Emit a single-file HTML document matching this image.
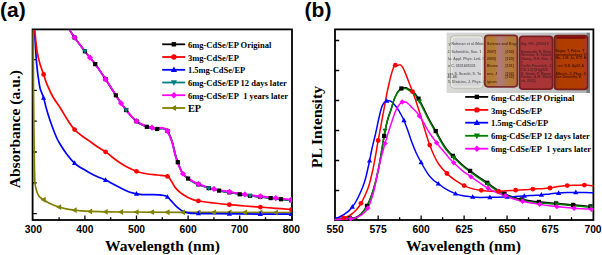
<!DOCTYPE html>
<html><head><meta charset="utf-8"><title>Absorbance and PL spectra</title>
<style>html,body{margin:0;padding:0;background:#fff;width:602px;height:255px;overflow:hidden}
svg{display:block}</style></head>
<body>
<svg width="602" height="255" viewBox="0 0 602 255"><rect width="602" height="255" fill="#fff"/><defs><filter id="bl" x="-5%" y="-5%" width="110%" height="110%"><feGaussianBlur stdDeviation="0.4"/></filter><linearGradient id="pg" x1="0" y1="0" x2="1" y2="0"><stop offset="0" stop-color="#d8d8d8"/><stop offset="0.45" stop-color="#cdcdcf"/><stop offset="0.97" stop-color="#b0b3b6"/><stop offset="0.985" stop-color="#6c7074"/><stop offset="1" stop-color="#8a8e92"/></linearGradient><linearGradient id="f2" x1="0" y1="0" x2="1" y2="0"><stop offset="0" stop-color="#b07830"/><stop offset="0.3" stop-color="#b47c32"/><stop offset="0.45" stop-color="#b07a80"/><stop offset="0.6" stop-color="#b07a5c"/><stop offset="0.8" stop-color="#b47a34"/><stop offset="1" stop-color="#b07444"/></linearGradient><linearGradient id="f3" x1="0" y1="0" x2="1" y2="1"><stop offset="0" stop-color="#ae383a"/><stop offset="1" stop-color="#a83436"/></linearGradient><linearGradient id="f4" x1="0" y1="0" x2="1" y2="0"><stop offset="0" stop-color="#8a3a12"/><stop offset="0.15" stop-color="#b03c04"/><stop offset="0.85" stop-color="#b43c04"/><stop offset="0.94" stop-color="#a83a20"/><stop offset="1" stop-color="#c07080"/></linearGradient><clipPath id="k1"><rect x="447" y="33" width="36.5" height="60"/></clipPath><clipPath id="k2"><rect x="485.5" y="35" width="31.5" height="51"/></clipPath><clipPath id="k3"><rect x="520.3" y="37" width="31.5" height="51"/></clipPath><clipPath id="k4"><rect x="555.2" y="37" width="31.5" height="51"/></clipPath></defs><g filter="url(#bl)"><rect x="446.6" y="32.6" width="143.4" height="60.4" fill="url(#pg)"/><rect x="450.6" y="35.9" width="32.4" height="52.2" rx="3.2" fill="#d6d6d8" stroke="#b8b8a0" stroke-width="1.0"/><rect x="451.8" y="37.0" width="30.0" height="50.0" rx="2.6" fill="none" stroke="#eeeeea" stroke-width="1.2"/><g clip-path="url(#k1)"><text x="448.50" y="45.00" font-family="Liberation Sans, sans-serif" font-size="3.50" font-weight="bold" letter-spacing="0.05" fill="#5a5a5a" opacity="0.90">y Rahman et al./Mater</text><text x="447.50" y="52.80" font-family="Liberation Sans, sans-serif" font-size="3.50" font-weight="bold" letter-spacing="0.05" fill="#5a5a5a" opacity="0.90">J. Schmidtic, Soc. 1</text><text x="448.00" y="59.70" font-family="Liberation Sans, sans-serif" font-size="3.50" font-weight="bold" letter-spacing="0.05" fill="#5a5a5a" opacity="0.90">lo.  Appl. Phys. Lett. 9</text><text x="448.00" y="66.90" font-family="Liberation Sans, sans-serif" font-size="3.50" font-weight="bold" letter-spacing="0.05" fill="#5a5a5a" opacity="0.90">n C.  0531405331</text><text x="447.50" y="74.60" font-family="Liberation Sans, sans-serif" font-size="3.50" font-weight="bold" letter-spacing="0.05" fill="#5a5a5a" opacity="0.90">vas S. Suzuki, S. Yo</text><text x="447.50" y="77.80" font-family="Liberation Sans, sans-serif" font-size="3.50" font-weight="bold" letter-spacing="0.05" fill="#5a5a5a" opacity="0.90">45-48.</text><text x="448.00" y="82.60" font-family="Liberation Sans, sans-serif" font-size="3.50" font-weight="bold" letter-spacing="0.05" fill="#5a5a5a" opacity="0.90">5.  Dlatsins, J. Phys. C</text></g><rect x="484.8" y="35.4" width="32.6" height="51.4" rx="3.2" fill="url(#f2)" stroke="#7c2a2c" stroke-width="1.8"/><g clip-path="url(#k2)"><text x="487.00" y="45.00" font-family="Liberation Sans, sans-serif" font-size="3.50" font-weight="bold" letter-spacing="0.05" fill="#50200e" opacity="0.90">Science and Engin</text><text x="487.00" y="52.80" font-family="Liberation Sans, sans-serif" font-size="3.50" font-weight="bold" letter-spacing="0.05" fill="#50200e" opacity="0.90">2007)</text><text x="505.50" y="52.80" font-family="Liberation Sans, sans-serif" font-size="3.50" font-weight="bold" letter-spacing="0.05" fill="#50200e" opacity="0.90">[100]</text><text x="487.00" y="59.70" font-family="Liberation Sans, sans-serif" font-size="3.50" font-weight="bold" letter-spacing="0.05" fill="#50200e" opacity="0.90">2005)</text><text x="505.50" y="59.70" font-family="Liberation Sans, sans-serif" font-size="3.50" font-weight="bold" letter-spacing="0.05" fill="#50200e" opacity="0.90">[120]</text><text x="487.00" y="66.90" font-family="Liberation Sans, sans-serif" font-size="3.50" font-weight="bold" letter-spacing="0.05" fill="#50200e" opacity="0.90">Biome</text><text x="505.50" y="66.90" font-family="Liberation Sans, sans-serif" font-size="3.50" font-weight="bold" letter-spacing="0.05" fill="#50200e" opacity="0.90">[101]</text><text x="487.00" y="74.60" font-family="Liberation Sans, sans-serif" font-size="3.50" font-weight="bold" letter-spacing="0.05" fill="#50200e" opacity="0.90">oes, J</text><text x="505.50" y="74.60" font-family="Liberation Sans, sans-serif" font-size="3.50" font-weight="bold" letter-spacing="0.05" fill="#50200e" opacity="0.90">[102]</text><text x="505.50" y="77.80" font-family="Liberation Sans, sans-serif" font-size="3.50" font-weight="bold" letter-spacing="0.05" fill="#50200e" opacity="0.90">[102]</text><text x="487.00" y="83.00" font-family="Liberation Sans, sans-serif" font-size="3.50" font-weight="bold" letter-spacing="0.05" fill="#50200e" opacity="0.90">ignon</text></g><rect x="519.6" y="36.4" width="33" height="52.8" rx="3.2" fill="url(#f3)" stroke="#7a1e22" stroke-width="1.8"/><g clip-path="url(#k3)"><text x="521.00" y="45.00" font-family="Liberation Sans, sans-serif" font-size="3.40" font-weight="bold" letter-spacing="0.05" fill="#4a2026" opacity="0.90">Sig. P.K. (2000) 5</text><text x="521.00" y="52.60" font-family="Liberation Sans, sans-serif" font-size="3.40" font-weight="bold" letter-spacing="0.05" fill="#4a2026" opacity="0.90">Kawasaki, R. Bing</text><text x="521.00" y="56.00" font-family="Liberation Sans, sans-serif" font-size="3.40" font-weight="bold" letter-spacing="0.05" fill="#4a2026" opacity="0.90">Shimizu, S. Takase</text><text x="521.00" y="60.10" font-family="Liberation Sans, sans-serif" font-size="3.40" font-weight="bold" letter-spacing="0.05" fill="#4a2026" opacity="0.90">Zhang, D.H. Kim, J.</text><text x="521.00" y="63.50" font-family="Liberation Sans, sans-serif" font-size="3.40" font-weight="bold" letter-spacing="0.05" fill="#4a2026" opacity="0.90">7</text><text x="521.00" y="67.40" font-family="Liberation Sans, sans-serif" font-size="3.40" font-weight="bold" letter-spacing="0.05" fill="#4a2026" opacity="0.90">Carlin Panavich, J.</text><text x="521.00" y="70.60" font-family="Liberation Sans, sans-serif" font-size="3.40" font-weight="bold" letter-spacing="0.05" fill="#4a2026" opacity="0.90">CD-1.2(1)Hg(520</text><text x="521.00" y="75.30" font-family="Liberation Sans, sans-serif" font-size="3.40" font-weight="bold" letter-spacing="0.05" fill="#4a2026" opacity="0.90">D. Santa, P. Moore</text><text x="521.00" y="78.40" font-family="Liberation Sans, sans-serif" font-size="3.40" font-weight="bold" letter-spacing="0.05" fill="#4a2026" opacity="0.90">Farkas, A.M. Walde</text><text x="521.00" y="82.30" font-family="Liberation Sans, sans-serif" font-size="3.40" font-weight="bold" letter-spacing="0.05" fill="#4a2026" opacity="0.90">sh, 2011)</text></g><rect x="554.4" y="35.6" width="33" height="53.8" rx="3.2" fill="url(#f4)" stroke="#781a14" stroke-width="1.8"/><path d="M556.5,37.6 H585.5" stroke="#801010" stroke-width="2.6"/><g clip-path="url(#k4)"><text x="555.50" y="52.40" font-family="Liberation Sans, sans-serif" font-size="3.40" font-weight="bold" letter-spacing="0.05" fill="#3a1004" opacity="0.90">Sugar, T. Pulse. T</text><text x="555.50" y="55.80" font-family="Liberation Sans, sans-serif" font-size="3.40" font-weight="bold" letter-spacing="0.05" fill="#3a1004" opacity="0.90">nanotechnology 17</text><text x="555.50" y="59.30" font-family="Liberation Sans, sans-serif" font-size="3.40" font-weight="bold" letter-spacing="0.05" fill="#3a1004" opacity="0.90">Mo, J.M. Jo, K.Y. Kim</text><text x="555.50" y="67.40" font-family="Liberation Sans, sans-serif" font-size="3.40" font-weight="bold" letter-spacing="0.05" fill="#3a1004" opacity="0.90">...en. S.S. Ap01.A</text><text x="555.50" y="74.90" font-family="Liberation Sans, sans-serif" font-size="3.40" font-weight="bold" letter-spacing="0.05" fill="#3a1004" opacity="0.90">Alberts, J. Phys. C</text><text x="555.50" y="78.30" font-family="Liberation Sans, sans-serif" font-size="3.40" font-weight="bold" letter-spacing="0.05" fill="#3a1004" opacity="0.90">Lee Donnelly, E</text></g></g><rect x="32.60" y="29.40" width="259.40" height="190.60" fill="none" stroke="#000" stroke-width="1.8"/><rect x="335.00" y="29.40" width="258.40" height="190.60" fill="none" stroke="#000" stroke-width="1.8"/><path d="M59.10,220.00V217.20 M84.90,220.00V215.50 M110.70,220.00V217.20 M136.50,220.00V215.50 M162.30,220.00V217.20 M188.10,220.00V215.50 M213.90,220.00V217.20 M239.70,220.00V215.50 M265.50,220.00V217.20 M32.60,59.60H36.80 M32.60,90.40H36.80 M32.60,121.20H36.80 M32.60,152.00H36.80 M32.60,182.80H36.80 M32.60,213.60H36.80 M356.68,220.00V217.20 M378.17,220.00V215.50 M399.65,220.00V217.20 M421.13,220.00V215.50 M442.62,220.00V217.20 M464.10,220.00V215.50 M485.59,220.00V217.20 M507.07,220.00V215.50 M528.55,220.00V217.20 M550.04,220.00V215.50 M571.52,220.00V217.20 M335.00,40.50H339.20 M335.00,70.50H339.20 M335.00,100.50H339.20 M335.00,130.50H339.20 M335.00,160.50H339.20 M335.00,190.50H339.20" stroke="#000" stroke-width="1.3" fill="none"/><clipPath id="ca"><rect x="31.70" y="30.30" width="260.30" height="190.60"/></clipPath><g clip-path="url(#ca)"><path d="M33.30,27.00 C33.31,33.33 33.29,52.00 33.35,65.00 C33.41,78.00 33.54,93.33 33.65,105.00 C33.76,116.67 33.88,125.00 34.00,135.00 C34.12,145.00 34.28,158.17 34.40,165.00 C34.52,171.83 34.60,172.92 34.70,176.00 C34.80,179.08 34.68,181.00 35.00,183.50 C35.32,186.00 35.93,188.88 36.60,191.00 C37.27,193.12 37.97,194.83 39.00,196.20 C40.03,197.57 40.97,197.98 42.80,199.20 C44.63,200.42 47.43,202.23 50.00,203.50 C52.57,204.77 55.53,205.92 58.20,206.80 C60.87,207.68 63.45,208.27 66.00,208.80 C68.55,209.33 71.00,209.65 73.50,210.00 C76.00,210.35 78.45,210.67 81.00,210.90 C83.55,211.13 84.80,211.25 88.80,211.40 C92.80,211.55 99.63,211.70 105.00,211.80 C110.37,211.90 108.50,211.92 121.00,212.00 C133.50,212.08 151.67,212.20 180.00,212.30 C208.33,212.40 272.08,212.55 291.00,212.60 C309.92,212.65 293.08,212.60 293.50,212.60" fill="none" stroke="#808000" stroke-width="1.70" stroke-linejoin="round" stroke-linecap="round" /><path d="M33.80,27.00 C33.90,27.42 33.93,23.45 34.40,29.50 C34.87,35.55 35.77,54.05 36.60,63.30 C37.43,72.55 38.63,80.30 39.40,85.00 C40.17,89.70 40.53,89.47 41.20,91.50 C41.87,93.53 42.52,94.28 43.40,97.20 C44.28,100.12 45.40,105.15 46.50,109.00 C47.60,112.85 48.83,116.80 50.00,120.30 C51.17,123.80 52.33,126.97 53.50,130.00 C54.67,133.03 55.82,136.00 57.00,138.50 C58.18,141.00 58.93,142.33 60.60,145.00 C62.27,147.67 64.73,151.53 67.00,154.50 C69.27,157.47 72.03,160.68 74.20,162.80 C76.37,164.92 78.20,166.00 80.00,167.20 C81.80,168.40 83.33,169.03 85.00,170.00 C86.67,170.97 88.00,171.92 90.00,173.00 C92.00,174.08 94.38,175.32 97.00,176.50 C99.62,177.68 102.87,178.75 105.70,180.10 C108.53,181.45 111.18,183.12 114.00,184.60 C116.82,186.08 119.93,187.73 122.60,189.00 C125.27,190.27 127.10,191.30 130.00,192.20 C132.90,193.10 136.67,194.00 140.00,194.40 C143.33,194.80 146.87,194.53 150.00,194.60 C153.13,194.67 156.47,194.65 158.80,194.80 C161.13,194.95 162.63,195.20 164.00,195.50 C165.37,195.80 165.83,195.75 167.00,196.60 C168.17,197.45 169.62,199.15 171.00,200.60 C172.38,202.05 173.97,203.97 175.30,205.30 C176.63,206.63 177.72,207.60 179.00,208.60 C180.28,209.60 181.50,210.60 183.00,211.30 C184.50,212.00 186.00,212.45 188.00,212.80 C190.00,213.15 191.33,213.27 195.00,213.40 C198.67,213.53 202.50,213.52 210.00,213.60 C217.50,213.68 226.50,213.80 240.00,213.90 C253.50,214.00 282.08,214.13 291.00,214.20 C299.92,214.27 293.08,214.28 293.50,214.30" fill="none" stroke="#0000ff" stroke-width="1.70" stroke-linejoin="round" stroke-linecap="round" /><path d="M34.00,27.00 C34.10,27.42 34.08,25.42 34.60,29.50 C35.12,33.58 36.20,45.75 37.10,51.50 C38.00,57.25 38.92,60.18 40.00,64.00 C41.08,67.82 42.45,71.03 43.60,74.40 C44.75,77.77 45.33,80.43 46.90,84.20 C48.47,87.97 50.72,92.95 53.00,97.00 C55.28,101.05 58.27,104.83 60.60,108.50 C62.93,112.17 64.73,115.55 67.00,119.00 C69.27,122.45 71.70,126.37 74.20,129.20 C76.70,132.03 79.37,133.95 82.00,136.00 C84.63,138.05 87.50,139.75 90.00,141.50 C92.50,143.25 94.38,144.77 97.00,146.50 C99.62,148.23 103.20,150.15 105.70,151.90 C108.20,153.65 109.57,155.15 112.00,157.00 C114.43,158.85 117.63,161.23 120.30,163.00 C122.97,164.77 125.33,166.22 128.00,167.60 C130.67,168.98 133.47,170.32 136.30,171.30 C139.13,172.28 142.03,172.93 145.00,173.50 C147.97,174.07 151.43,174.38 154.10,174.70 C156.77,175.02 158.72,175.08 161.00,175.40 C163.28,175.72 166.05,175.62 167.80,176.60 C169.55,177.58 170.25,179.47 171.50,181.30 C172.75,183.13 173.72,185.62 175.30,187.60 C176.88,189.58 179.05,191.63 181.00,193.20 C182.95,194.77 185.17,195.98 187.00,197.00 C188.83,198.02 190.05,198.63 192.00,199.30 C193.95,199.97 195.03,200.38 198.70,201.00 C202.37,201.62 208.87,202.38 214.00,203.00 C219.13,203.62 224.33,204.20 229.50,204.70 C234.67,205.20 239.83,205.60 245.00,206.00 C250.17,206.40 255.33,206.72 260.50,207.10 C265.67,207.48 270.97,207.90 276.00,208.30 C281.03,208.70 287.78,209.27 290.70,209.50 C293.62,209.73 293.03,209.67 293.50,209.70" fill="none" stroke="#ff0000" stroke-width="1.70" stroke-linejoin="round" stroke-linecap="round" /><path d="M69.10,28.20 C69.23,28.55 68.97,28.72 69.90,30.30 C70.83,31.88 72.17,34.17 74.70,37.70 C77.23,41.23 82.47,48.07 85.10,51.50 C87.73,54.93 88.62,55.93 90.50,58.30 C92.38,60.67 93.85,62.17 96.40,65.70 C98.95,69.23 102.60,74.63 105.80,79.50 C109.00,84.37 113.02,90.88 115.60,94.90 C118.18,98.92 119.45,100.97 121.30,103.60 C123.15,106.23 125.00,108.55 126.70,110.70 C128.40,112.85 129.80,114.68 131.50,116.50 C133.20,118.32 135.40,120.33 136.90,121.60 C138.40,122.87 138.80,123.22 140.50,124.10 C142.20,124.98 145.07,126.20 147.10,126.90 C149.13,127.60 150.97,127.95 152.70,128.30 C154.43,128.65 155.87,128.98 157.50,129.00 C159.13,129.02 161.12,128.30 162.50,128.40 C163.88,128.50 164.88,129.05 165.80,129.60 C166.72,130.15 167.30,130.60 168.00,131.70 C168.70,132.80 169.28,134.45 170.00,136.20 C170.72,137.95 171.62,140.03 172.30,142.20 C172.98,144.37 173.52,146.85 174.10,149.20 C174.68,151.55 175.17,154.08 175.80,156.30 C176.43,158.52 177.12,160.38 177.90,162.50 C178.68,164.62 179.60,167.03 180.50,169.00 C181.40,170.97 181.93,172.63 183.30,174.30 C184.67,175.97 187.08,177.73 188.70,179.00 C190.32,180.27 191.43,181.02 193.00,181.90 C194.57,182.78 195.38,183.23 198.10,184.30 C200.82,185.37 205.67,187.22 209.30,188.30 C212.93,189.38 216.45,190.10 219.90,190.80 C223.35,191.50 226.67,191.92 230.00,192.50 C233.33,193.08 236.42,193.73 239.90,194.30 C243.38,194.87 247.38,195.45 250.90,195.90 C254.42,196.35 257.70,196.63 261.00,197.00 C264.30,197.37 267.28,197.72 270.70,198.10 C274.12,198.48 278.08,198.93 281.50,199.30 C284.92,199.67 289.20,200.10 291.20,200.30 C293.20,200.50 293.12,200.47 293.50,200.50" fill="none" stroke="#000000" stroke-width="1.70" stroke-linejoin="round" stroke-linecap="round" /><path d="M69.10,28.20 C69.23,28.55 68.97,28.72 69.90,30.30 C70.83,31.88 72.17,34.17 74.70,37.70 C77.23,41.23 82.47,48.07 85.10,51.50 C87.73,54.93 88.62,55.93 90.50,58.30 C92.38,60.67 93.85,62.17 96.40,65.70 C98.95,69.23 102.60,74.63 105.80,79.50 C109.00,84.37 113.02,90.88 115.60,94.90 C118.18,98.92 119.45,100.97 121.30,103.60 C123.15,106.23 125.00,108.55 126.70,110.70 C128.40,112.85 129.80,114.68 131.50,116.50 C133.20,118.32 135.40,120.33 136.90,121.60 C138.40,122.87 138.80,123.22 140.50,124.10 C142.20,124.98 145.07,126.20 147.10,126.90 C149.13,127.60 150.97,127.95 152.70,128.30 C154.43,128.65 155.87,128.98 157.50,129.00 C159.13,129.02 161.12,128.30 162.50,128.40 C163.88,128.50 164.88,129.05 165.80,129.60 C166.72,130.15 167.30,130.60 168.00,131.70 C168.70,132.80 169.28,134.45 170.00,136.20 C170.72,137.95 171.62,140.03 172.30,142.20 C172.98,144.37 173.52,146.85 174.10,149.20 C174.68,151.55 175.17,154.08 175.80,156.30 C176.43,158.52 177.12,160.38 177.90,162.50 C178.68,164.62 179.60,167.03 180.50,169.00 C181.40,170.97 181.93,172.63 183.30,174.30 C184.67,175.97 187.08,177.73 188.70,179.00 C190.32,180.27 191.43,181.02 193.00,181.90 C194.57,182.78 195.38,183.23 198.10,184.30 C200.82,185.37 205.67,187.22 209.30,188.30 C212.93,189.38 216.45,190.10 219.90,190.80 C223.35,191.50 226.67,191.92 230.00,192.50 C233.33,193.08 236.42,193.73 239.90,194.30 C243.38,194.87 247.38,195.45 250.90,195.90 C254.42,196.35 257.70,196.63 261.00,197.00 C264.30,197.37 267.28,197.72 270.70,198.10 C274.12,198.48 278.08,198.93 281.50,199.30 C284.92,199.67 289.20,200.10 291.20,200.30 C293.20,200.50 293.12,200.47 293.50,200.50" fill="none" stroke="#008080" stroke-width="1.70" stroke-linejoin="round" stroke-linecap="round" /><path d="M68.60,27.50 C68.73,27.85 68.47,28.02 69.40,29.60 C70.33,31.18 71.67,33.47 74.20,37.00 C76.73,40.53 81.97,47.37 84.60,50.80 C87.23,54.23 88.12,55.23 90.00,57.60 C91.88,59.97 93.35,61.47 95.90,65.00 C98.45,68.53 102.10,73.93 105.30,78.80 C108.50,83.67 112.52,90.18 115.10,94.20 C117.68,98.22 118.95,100.27 120.80,102.90 C122.65,105.53 124.50,107.85 126.20,110.00 C127.90,112.15 129.30,113.98 131.00,115.80 C132.70,117.62 134.90,119.63 136.40,120.90 C137.90,122.17 138.30,122.52 140.00,123.40 C141.70,124.28 144.57,125.50 146.60,126.20 C148.63,126.90 150.47,127.25 152.20,127.60 C153.93,127.95 155.37,128.28 157.00,128.30 C158.63,128.32 160.62,127.60 162.00,127.70 C163.38,127.80 164.38,128.35 165.30,128.90 C166.22,129.45 166.80,129.90 167.50,131.00 C168.20,132.10 168.78,133.75 169.50,135.50 C170.22,137.25 171.12,139.33 171.80,141.50 C172.48,143.67 173.02,146.15 173.60,148.50 C174.18,150.85 174.67,153.38 175.30,155.60 C175.93,157.82 176.62,159.68 177.40,161.80 C178.18,163.92 179.10,166.33 180.00,168.30 C180.90,170.27 181.43,171.93 182.80,173.60 C184.17,175.27 186.58,177.03 188.20,178.30 C189.82,179.57 190.93,180.32 192.50,181.20 C194.07,182.08 194.88,182.53 197.60,183.60 C200.32,184.67 205.17,186.52 208.80,187.60 C212.43,188.68 215.95,189.40 219.40,190.10 C222.85,190.80 226.17,191.22 229.50,191.80 C232.83,192.38 235.92,193.03 239.40,193.60 C242.88,194.17 246.88,194.75 250.40,195.20 C253.92,195.65 257.20,195.93 260.50,196.30 C263.80,196.67 266.78,197.02 270.20,197.40 C273.62,197.78 277.58,198.23 281.00,198.60 C284.42,198.97 288.70,199.40 290.70,199.60 C292.70,199.80 292.62,199.77 293.00,199.80" fill="none" stroke="#ff00ff" stroke-width="1.90" stroke-linejoin="round" stroke-linecap="round" /><path d="M40.49,199.74L45.71,196.84L45.71,202.64Z" fill="#808000"/><path d="M55.97,207.09L61.19,204.19L61.19,209.99Z" fill="#808000"/><path d="M71.45,210.15L76.67,207.25L76.67,213.05Z" fill="#808000"/><path d="M86.93,211.44L92.15,208.54L92.15,214.34Z" fill="#808000"/><path d="M102.41,211.81L107.63,208.91L107.63,214.71Z" fill="#808000"/><path d="M117.89,212.00L123.11,209.10L123.11,214.90Z" fill="#808000"/><path d="M133.37,212.10L138.59,209.20L138.59,215.00Z" fill="#808000"/><path d="M148.85,212.18L154.07,209.28L154.07,215.08Z" fill="#808000"/><path d="M164.33,212.25L169.55,209.35L169.55,215.15Z" fill="#808000"/><path d="M179.81,212.31L185.03,209.41L185.03,215.21Z" fill="#808000"/><path d="M195.29,212.36L200.51,209.46L200.51,215.26Z" fill="#808000"/><path d="M210.77,212.40L215.99,209.50L215.99,215.30Z" fill="#808000"/><path d="M226.25,212.44L231.47,209.54L231.47,215.34Z" fill="#808000"/><path d="M241.73,212.48L246.95,209.58L246.95,215.38Z" fill="#808000"/><path d="M257.21,212.52L262.43,209.62L262.43,215.42Z" fill="#808000"/><path d="M272.69,212.56L277.91,209.66L277.91,215.46Z" fill="#808000"/><path d="M288.17,212.60L293.39,209.70L293.39,215.50Z" fill="#808000"/><path d="M43.62,95.14L46.22,99.82L41.02,99.82Z" fill="#0000ff"/><path d="M74.58,160.35L77.18,165.03L71.98,165.03Z" fill="#0000ff"/><path d="M105.54,177.22L108.14,181.90L102.94,181.90Z" fill="#0000ff"/><path d="M136.50,191.03L139.10,195.71L133.90,195.71Z" fill="#0000ff"/><path d="M167.46,194.16L170.06,198.84L164.86,198.84Z" fill="#0000ff"/><path d="M198.42,210.68L201.02,215.36L195.82,215.36Z" fill="#0000ff"/><path d="M229.38,211.00L231.98,215.68L226.78,215.68Z" fill="#0000ff"/><path d="M260.34,211.22L262.94,215.90L257.74,215.90Z" fill="#0000ff"/><path d="M291.30,211.39L293.90,216.07L288.70,216.07Z" fill="#0000ff"/><circle cx="43.62" cy="74.46" r="2.40" fill="#ff0000"/><circle cx="74.58" cy="129.62" r="2.40" fill="#ff0000"/><circle cx="105.54" cy="151.79" r="2.40" fill="#ff0000"/><circle cx="136.50" cy="171.37" r="2.40" fill="#ff0000"/><circle cx="167.46" cy="176.43" r="2.40" fill="#ff0000"/><circle cx="198.42" cy="200.95" r="2.40" fill="#ff0000"/><circle cx="229.38" cy="204.69" r="2.40" fill="#ff0000"/><circle cx="260.34" cy="207.09" r="2.40" fill="#ff0000"/><circle cx="291.30" cy="209.55" r="2.40" fill="#ff0000"/><rect x="72.48" y="35.43" width="4.20" height="4.20" fill="#000000"/><rect x="82.80" y="49.14" width="4.20" height="4.20" fill="#000000"/><rect x="93.12" y="62.00" width="4.20" height="4.20" fill="#000000"/><rect x="103.44" y="77.01" width="4.20" height="4.20" fill="#000000"/><rect x="113.76" y="93.20" width="4.20" height="4.20" fill="#000000"/><rect x="124.08" y="107.94" width="4.20" height="4.20" fill="#000000"/><rect x="134.40" y="119.16" width="4.20" height="4.20" fill="#000000"/><rect x="144.72" y="124.70" width="4.20" height="4.20" fill="#000000"/><rect x="155.04" y="126.89" width="4.20" height="4.20" fill="#000000"/><rect x="165.36" y="128.85" width="4.20" height="4.20" fill="#000000"/><rect x="175.68" y="160.08" width="4.20" height="4.20" fill="#000000"/><rect x="186.00" y="176.43" width="4.20" height="4.20" fill="#000000"/><rect x="196.32" y="182.33" width="4.20" height="4.20" fill="#000000"/><rect x="206.64" y="186.03" width="4.20" height="4.20" fill="#000000"/><rect x="216.96" y="188.53" width="4.20" height="4.20" fill="#000000"/><rect x="227.28" y="190.29" width="4.20" height="4.20" fill="#000000"/><rect x="237.60" y="192.17" width="4.20" height="4.20" fill="#000000"/><rect x="247.92" y="193.69" width="4.20" height="4.20" fill="#000000"/><rect x="258.24" y="194.83" width="4.20" height="4.20" fill="#000000"/><rect x="268.56" y="196.00" width="4.20" height="4.20" fill="#000000"/><rect x="278.88" y="197.14" width="4.20" height="4.20" fill="#000000"/><rect x="289.20" y="198.21" width="4.20" height="4.20" fill="#000000"/><path d="M84.90,54.05L87.50,49.37L82.30,49.37Z" fill="#008080"/><path d="M126.18,112.85L128.78,108.17L123.58,108.17Z" fill="#008080"/><path d="M167.46,133.76L170.06,129.08L164.86,129.08Z" fill="#008080"/><path d="M208.74,190.94L211.34,186.26L206.14,186.26Z" fill="#008080"/><path d="M250.02,198.59L252.62,193.91L247.42,193.91Z" fill="#008080"/><path d="M291.30,203.12L293.90,198.44L288.70,198.44Z" fill="#008080"/><path d="M74.58,34.42L77.68,37.52L74.58,40.62L71.48,37.52Z" fill="#ff00ff"/><path d="M90.06,54.57L93.16,57.67L90.06,60.77L86.96,57.67Z" fill="#ff00ff"/><path d="M105.54,76.07L108.64,79.17L105.54,82.27L102.44,79.17Z" fill="#ff00ff"/><path d="M121.02,100.11L124.12,103.21L121.02,106.31L117.92,103.21Z" fill="#ff00ff"/><path d="M136.50,117.88L139.60,120.98L136.50,124.08L133.40,120.98Z" fill="#ff00ff"/><path d="M151.98,124.46L155.08,127.56L151.98,130.66L148.88,127.56Z" fill="#ff00ff"/><path d="M167.46,127.84L170.56,130.94L167.46,134.04L164.36,130.94Z" fill="#ff00ff"/><path d="M182.94,170.66L186.04,173.76L182.94,176.86L179.84,173.76Z" fill="#ff00ff"/><path d="M198.42,180.82L201.52,183.92L198.42,187.02L195.32,183.92Z" fill="#ff00ff"/><path d="M213.90,185.83L217.00,188.93L213.90,192.03L210.80,188.93Z" fill="#ff00ff"/><path d="M229.38,188.68L232.48,191.78L229.38,194.88L226.28,191.78Z" fill="#ff00ff"/><path d="M244.86,191.34L247.96,194.44L244.86,197.54L241.76,194.44Z" fill="#ff00ff"/><path d="M260.34,193.18L263.44,196.28L260.34,199.38L257.24,196.28Z" fill="#ff00ff"/><path d="M275.82,194.93L278.92,198.03L275.82,201.13L272.72,198.03Z" fill="#ff00ff"/><path d="M291.30,196.56L294.40,199.66L291.30,202.76L288.20,199.66Z" fill="#ff00ff"/></g><clipPath id="cb"><rect x="334.10" y="30.30" width="259.30" height="190.60"/></clipPath><g clip-path="url(#cb)"><path d="M335.30,218.60 C337.47,218.53 344.90,218.38 348.30,218.20 C351.70,218.02 353.53,218.25 355.70,217.50 C357.87,216.75 359.40,215.67 361.30,213.70 C363.20,211.73 365.35,208.87 367.10,205.70 C368.85,202.53 370.40,198.62 371.80,194.70 C373.20,190.78 374.32,186.78 375.50,182.20 C376.68,177.62 377.85,172.45 378.90,167.20 C379.95,161.95 380.87,156.20 381.80,150.70 C382.73,145.20 383.50,139.45 384.50,134.20 C385.50,128.95 386.68,123.37 387.80,119.20 C388.92,115.03 390.17,112.45 391.20,109.20 C392.23,105.95 393.02,102.40 394.00,99.70 C394.98,97.00 396.13,94.70 397.10,93.00 C398.07,91.30 398.88,90.33 399.80,89.50 C400.72,88.67 401.60,88.28 402.60,88.00 C403.60,87.72 404.77,87.60 405.80,87.80 C406.83,88.00 407.70,88.60 408.80,89.20 C409.90,89.80 411.23,90.48 412.40,91.40 C413.57,92.32 414.53,93.10 415.80,94.70 C417.07,96.30 418.67,98.67 420.00,101.00 C421.33,103.33 422.43,105.95 423.80,108.70 C425.17,111.45 426.78,114.78 428.20,117.50 C429.62,120.22 430.93,122.55 432.30,125.00 C433.67,127.45 435.07,129.83 436.40,132.20 C437.73,134.57 438.93,136.85 440.30,139.20 C441.67,141.55 443.18,144.22 444.60,146.30 C446.02,148.38 447.23,149.95 448.80,151.70 C450.37,153.45 451.75,154.63 454.00,156.80 C456.25,158.97 459.33,162.15 462.30,164.70 C465.27,167.25 468.80,169.88 471.80,172.10 C474.80,174.32 477.52,176.08 480.30,178.00 C483.08,179.92 485.83,181.73 488.50,183.60 C491.17,185.47 493.55,187.47 496.30,189.20 C499.05,190.93 502.17,192.67 505.00,194.00 C507.83,195.33 510.35,196.27 513.30,197.20 C516.25,198.13 519.70,198.95 522.70,199.60 C525.70,200.25 528.37,200.68 531.30,201.10 C534.23,201.52 537.47,201.82 540.30,202.10 C543.13,202.38 545.40,202.57 548.30,202.80 C551.20,203.03 554.70,203.27 557.70,203.50 C560.70,203.73 563.53,203.95 566.30,204.20 C569.07,204.45 571.47,204.73 574.30,205.00 C577.13,205.27 580.13,205.53 583.30,205.80 C586.47,206.07 591.63,206.47 593.30,206.60" fill="none" stroke="#000000" stroke-width="1.50" stroke-linejoin="round" stroke-linecap="round" /><path d="M335.00,219.20 C336.37,219.00 340.87,218.53 343.20,218.00 C345.53,217.47 347.30,216.88 349.00,216.00 C350.70,215.12 351.98,213.95 353.40,212.70 C354.82,211.45 356.25,210.03 357.50,208.50 C358.75,206.97 359.73,205.50 360.90,203.50 C362.07,201.50 363.20,199.37 364.50,196.50 C365.80,193.63 367.32,190.72 368.70,186.30 C370.08,181.88 371.67,175.05 372.80,170.00 C373.93,164.95 374.63,160.77 375.50,156.00 C376.37,151.23 376.92,147.40 378.00,141.40 C379.08,135.40 380.68,127.15 382.00,120.00 C383.32,112.85 384.97,103.50 385.90,98.50 C386.83,93.50 386.92,93.17 387.60,90.00 C388.28,86.83 389.22,82.67 390.00,79.50 C390.78,76.33 391.52,73.32 392.30,71.00 C393.08,68.68 393.83,66.52 394.70,65.60 C395.57,64.68 396.55,65.62 397.50,65.50 C398.45,65.38 399.52,64.55 400.40,64.90 C401.28,65.25 401.98,66.27 402.80,67.60 C403.62,68.93 404.20,70.25 405.30,72.90 C406.40,75.55 408.18,80.35 409.40,83.50 C410.62,86.65 411.60,89.13 412.60,91.80 C413.60,94.47 414.00,95.32 415.40,99.50 C416.80,103.68 419.40,111.73 421.00,116.90 C422.60,122.07 423.63,126.05 425.00,130.50 C426.37,134.95 427.70,139.43 429.20,143.60 C430.70,147.77 432.40,152.07 434.00,155.50 C435.60,158.93 436.67,161.22 438.80,164.20 C440.93,167.18 444.10,170.73 446.80,173.40 C449.50,176.07 452.12,178.17 455.00,180.20 C457.88,182.23 461.27,184.20 464.10,185.60 C466.93,187.00 469.07,187.80 472.00,188.60 C474.93,189.40 478.37,189.97 481.70,190.40 C485.03,190.83 488.35,191.08 492.00,191.20 C495.65,191.32 499.63,191.27 503.60,191.10 C507.57,190.93 512.40,190.42 515.80,190.20 C519.20,189.98 521.02,190.00 524.00,189.80 C526.98,189.60 530.70,189.18 533.70,189.00 C536.70,188.82 539.27,188.87 542.00,188.70 C544.73,188.53 547.43,188.35 550.10,188.00 C552.77,187.65 555.17,187.00 558.00,186.60 C560.83,186.20 564.10,185.82 567.10,185.60 C570.10,185.38 573.03,185.38 576.00,185.30 C578.97,185.22 582.07,185.02 584.90,185.10 C587.73,185.18 591.65,185.68 593.00,185.80" fill="none" stroke="#ff0000" stroke-width="1.50" stroke-linejoin="round" stroke-linecap="round" /><path d="M335.00,218.50 C335.67,218.28 337.63,217.80 339.00,217.20 C340.37,216.60 341.70,215.83 343.20,214.90 C344.70,213.97 346.48,212.92 348.00,211.60 C349.52,210.28 350.97,208.68 352.30,207.00 C353.63,205.32 354.80,203.58 356.00,201.50 C357.20,199.42 358.42,196.83 359.50,194.50 C360.58,192.17 361.48,190.22 362.50,187.50 C363.52,184.78 364.52,182.20 365.60,178.20 C366.68,174.20 367.93,168.45 369.00,163.50 C370.07,158.55 370.90,153.50 372.00,148.50 C373.10,143.50 374.48,138.42 375.60,133.50 C376.72,128.58 377.70,123.33 378.70,119.00 C379.70,114.67 380.75,110.17 381.60,107.50 C382.45,104.83 383.05,104.05 383.80,103.00 C384.55,101.95 385.32,101.57 386.10,101.20 C386.88,100.83 387.72,100.82 388.50,100.80 C389.28,100.78 389.97,100.63 390.80,101.10 C391.63,101.57 392.45,102.47 393.50,103.60 C394.55,104.73 395.85,106.08 397.10,107.90 C398.35,109.72 399.82,112.32 401.00,114.50 C402.18,116.68 403.03,118.25 404.20,121.00 C405.37,123.75 406.80,127.67 408.00,131.00 C409.20,134.33 410.07,137.42 411.40,141.00 C412.73,144.58 414.47,149.08 416.00,152.50 C417.53,155.92 418.65,157.98 420.60,161.50 C422.55,165.02 425.63,170.55 427.70,173.60 C429.77,176.65 431.22,178.10 433.00,179.80 C434.78,181.50 436.23,182.23 438.40,183.80 C440.57,185.37 443.20,187.57 446.00,189.20 C448.80,190.83 452.37,192.50 455.20,193.60 C458.03,194.70 460.03,195.23 463.00,195.80 C465.97,196.37 470.17,196.73 473.00,197.00 C475.83,197.27 477.18,197.35 480.00,197.40 C482.82,197.45 485.58,197.37 489.90,197.30 C494.22,197.23 501.72,197.12 505.90,197.00 C510.08,196.88 511.93,196.77 515.00,196.60 C518.07,196.43 521.30,196.20 524.30,196.00 C527.30,195.80 530.10,195.58 533.00,195.40 C535.90,195.22 538.87,195.15 541.70,194.90 C544.53,194.65 547.13,194.22 550.00,193.90 C552.87,193.58 556.07,193.22 558.90,193.00 C561.73,192.78 564.08,192.70 567.00,192.60 C569.92,192.50 573.40,192.42 576.40,192.40 C579.40,192.38 582.23,192.42 585.00,192.50 C587.77,192.58 591.67,192.83 593.00,192.90" fill="none" stroke="#0000ff" stroke-width="1.50" stroke-linejoin="round" stroke-linecap="round" /><path d="M335.00,219.40 C337.17,219.33 344.60,219.18 348.00,219.00 C351.40,218.82 353.23,219.05 355.40,218.30 C357.57,217.55 359.10,216.47 361.00,214.50 C362.90,212.53 365.05,209.67 366.80,206.50 C368.55,203.33 370.10,199.42 371.50,195.50 C372.90,191.58 374.02,187.58 375.20,183.00 C376.38,178.42 377.55,173.25 378.60,168.00 C379.65,162.75 380.57,157.00 381.50,151.50 C382.43,146.00 383.20,140.25 384.20,135.00 C385.20,129.75 386.38,124.17 387.50,120.00 C388.62,115.83 389.87,113.25 390.90,110.00 C391.93,106.75 392.72,103.20 393.70,100.50 C394.68,97.80 395.83,95.50 396.80,93.80 C397.77,92.10 398.58,91.13 399.50,90.30 C400.42,89.47 401.30,89.08 402.30,88.80 C403.30,88.52 404.47,88.40 405.50,88.60 C406.53,88.80 407.40,89.40 408.50,90.00 C409.60,90.60 410.93,91.28 412.10,92.20 C413.27,93.12 414.23,93.90 415.50,95.50 C416.77,97.10 418.37,99.47 419.70,101.80 C421.03,104.13 422.13,106.75 423.50,109.50 C424.87,112.25 426.48,115.58 427.90,118.30 C429.32,121.02 430.63,123.35 432.00,125.80 C433.37,128.25 434.77,130.63 436.10,133.00 C437.43,135.37 438.63,137.65 440.00,140.00 C441.37,142.35 442.88,145.02 444.30,147.10 C445.72,149.18 446.93,150.75 448.50,152.50 C450.07,154.25 451.45,155.43 453.70,157.60 C455.95,159.77 459.03,162.95 462.00,165.50 C464.97,168.05 468.50,170.68 471.50,172.90 C474.50,175.12 477.22,176.88 480.00,178.80 C482.78,180.72 485.53,182.53 488.20,184.40 C490.87,186.27 493.25,188.27 496.00,190.00 C498.75,191.73 501.87,193.47 504.70,194.80 C507.53,196.13 510.05,197.07 513.00,198.00 C515.95,198.93 519.40,199.75 522.40,200.40 C525.40,201.05 528.07,201.48 531.00,201.90 C533.93,202.32 537.17,202.62 540.00,202.90 C542.83,203.18 545.10,203.37 548.00,203.60 C550.90,203.83 554.40,204.07 557.40,204.30 C560.40,204.53 563.23,204.75 566.00,205.00 C568.77,205.25 571.17,205.53 574.00,205.80 C576.83,206.07 579.83,206.33 583.00,206.60 C586.17,206.87 591.33,207.27 593.00,207.40" fill="none" stroke="#008000" stroke-width="1.50" stroke-linejoin="round" stroke-linecap="round" /><path d="M335.00,219.50 C337.03,219.42 344.03,219.22 347.20,219.00 C350.37,218.78 351.95,218.67 354.00,218.20 C356.05,217.73 357.88,217.03 359.50,216.20 C361.12,215.37 362.33,214.52 363.70,213.20 C365.07,211.88 366.48,210.42 367.70,208.30 C368.92,206.18 369.87,203.80 371.00,200.50 C372.13,197.20 373.42,193.00 374.50,188.50 C375.58,184.00 376.38,178.67 377.50,173.50 C378.62,168.33 379.93,162.55 381.20,157.50 C382.47,152.45 383.88,147.45 385.10,143.20 C386.32,138.95 387.37,135.62 388.50,132.00 C389.63,128.38 390.82,124.75 391.90,121.50 C392.98,118.25 393.93,115.08 395.00,112.50 C396.07,109.92 397.33,107.58 398.30,106.00 C399.27,104.42 399.98,103.70 400.80,103.00 C401.62,102.30 402.33,101.92 403.20,101.80 C404.07,101.68 405.12,101.93 406.00,102.30 C406.88,102.67 407.60,103.20 408.50,104.00 C409.40,104.80 410.28,105.97 411.40,107.10 C412.52,108.23 413.92,109.40 415.20,110.80 C416.48,112.20 417.72,113.55 419.10,115.50 C420.48,117.45 422.03,120.03 423.50,122.50 C424.97,124.97 426.48,127.97 427.90,130.30 C429.32,132.63 430.63,134.53 432.00,136.50 C433.37,138.47 434.68,140.22 436.10,142.10 C437.52,143.98 438.90,145.87 440.50,147.80 C442.10,149.73 444.20,151.90 445.70,153.70 C447.20,155.50 448.17,157.10 449.50,158.60 C450.83,160.10 451.62,160.75 453.70,162.70 C455.78,164.65 459.12,167.97 462.00,170.30 C464.88,172.63 468.00,174.58 471.00,176.70 C474.00,178.82 477.13,181.07 480.00,183.00 C482.87,184.93 485.53,186.73 488.20,188.30 C490.87,189.87 493.13,191.15 496.00,192.40 C498.87,193.65 502.57,194.73 505.40,195.80 C508.23,196.87 510.17,197.90 513.00,198.80 C515.83,199.70 519.40,200.50 522.40,201.20 C525.40,201.90 528.07,202.48 531.00,203.00 C533.93,203.52 537.17,203.87 540.00,204.30 C542.83,204.73 545.10,205.20 548.00,205.60 C550.90,206.00 554.40,206.37 557.40,206.70 C560.40,207.03 563.17,207.35 566.00,207.60 C568.83,207.85 571.57,208.00 574.40,208.20 C577.23,208.40 580.15,208.63 583.00,208.80 C585.85,208.97 589.78,209.12 591.50,209.20 C593.22,209.28 593.00,209.28 593.30,209.30" fill="none" stroke="#ff00ff" stroke-width="1.50" stroke-linejoin="round" stroke-linecap="round" /><rect x="347.71" y="216.04" width="4.20" height="4.20" fill="#000000"/><rect x="364.90" y="203.78" width="4.20" height="4.20" fill="#000000"/><rect x="382.08" y="133.83" width="4.20" height="4.20" fill="#000000"/><rect x="399.27" y="86.35" width="4.20" height="4.20" fill="#000000"/><rect x="416.46" y="96.52" width="4.20" height="4.20" fill="#000000"/><rect x="433.64" y="128.94" width="4.20" height="4.20" fill="#000000"/><rect x="450.83" y="153.68" width="4.20" height="4.20" fill="#000000"/><rect x="468.02" y="168.75" width="4.20" height="4.20" fill="#000000"/><rect x="485.20" y="180.67" width="4.20" height="4.20" fill="#000000"/><rect x="502.39" y="191.66" width="4.20" height="4.20" fill="#000000"/><rect x="519.58" y="197.28" width="4.20" height="4.20" fill="#000000"/><rect x="536.77" y="199.86" width="4.20" height="4.20" fill="#000000"/><rect x="553.95" y="201.28" width="4.20" height="4.20" fill="#000000"/><rect x="571.14" y="202.80" width="4.20" height="4.20" fill="#000000"/><rect x="588.33" y="204.27" width="4.20" height="4.20" fill="#000000"/><circle cx="343.79" cy="217.86" r="2.40" fill="#ff0000"/><circle cx="360.98" cy="203.36" r="2.40" fill="#ff0000"/><circle cx="378.17" cy="140.48" r="2.40" fill="#ff0000"/><circle cx="395.35" cy="65.22" r="2.40" fill="#ff0000"/><circle cx="412.54" cy="91.64" r="2.40" fill="#ff0000"/><circle cx="429.73" cy="145.05" r="2.40" fill="#ff0000"/><circle cx="446.92" cy="173.51" r="2.40" fill="#ff0000"/><circle cx="464.10" cy="185.60" r="2.40" fill="#ff0000"/><circle cx="481.29" cy="190.35" r="2.40" fill="#ff0000"/><circle cx="498.48" cy="191.25" r="2.40" fill="#ff0000"/><circle cx="515.66" cy="190.21" r="2.40" fill="#ff0000"/><circle cx="532.85" cy="189.06" r="2.40" fill="#ff0000"/><circle cx="550.04" cy="188.01" r="2.40" fill="#ff0000"/><circle cx="567.22" cy="185.59" r="2.40" fill="#ff0000"/><circle cx="584.41" cy="185.09" r="2.40" fill="#ff0000"/><path d="M352.39,204.08L354.99,208.76L349.79,208.76Z" fill="#0000ff"/><path d="M369.57,157.92L372.17,162.60L366.97,162.60Z" fill="#0000ff"/><path d="M386.76,98.16L389.36,102.84L384.16,102.84Z" fill="#0000ff"/><path d="M403.95,117.61L406.55,122.29L401.35,122.29Z" fill="#0000ff"/><path d="M421.13,159.66L423.74,164.34L418.53,164.34Z" fill="#0000ff"/><path d="M438.32,180.94L440.92,185.62L435.72,185.62Z" fill="#0000ff"/><path d="M455.51,190.91L458.11,195.59L452.91,195.59Z" fill="#0000ff"/><path d="M472.70,194.16L475.30,198.84L470.10,198.84Z" fill="#0000ff"/><path d="M489.88,194.49L492.48,199.17L487.28,199.17Z" fill="#0000ff"/><path d="M507.07,194.16L509.67,198.84L504.47,198.84Z" fill="#0000ff"/><path d="M524.26,193.19L526.86,197.87L521.66,197.87Z" fill="#0000ff"/><path d="M541.44,192.11L544.04,196.79L538.84,196.79Z" fill="#0000ff"/><path d="M558.63,190.21L561.23,194.89L556.03,194.89Z" fill="#0000ff"/><path d="M575.82,189.60L578.42,194.28L573.22,194.28Z" fill="#0000ff"/><path d="M350.67,221.72L353.27,217.04L348.07,217.04Z" fill="#008000"/><path d="M385.04,133.53L387.64,128.85L382.44,128.85Z" fill="#008000"/><path d="M419.42,104.12L422.02,99.44L416.82,99.44Z" fill="#008000"/><path d="M453.79,160.50L456.39,155.82L451.19,155.82Z" fill="#008000"/><path d="M488.16,187.18L490.76,182.50L485.56,182.50Z" fill="#008000"/><path d="M522.54,203.24L525.14,198.56L519.94,198.56Z" fill="#008000"/><path d="M556.91,207.07L559.51,202.39L554.31,202.39Z" fill="#008000"/><path d="M591.29,210.07L593.89,205.39L588.69,205.39Z" fill="#008000"/><path d="M350.67,216.03L353.37,218.73L350.67,221.43L347.97,218.73Z" fill="#ff00ff"/><path d="M367.86,205.32L370.56,208.02L367.86,210.72L365.16,208.02Z" fill="#ff00ff"/><path d="M385.04,140.70L387.74,143.40L385.04,146.10L382.34,143.40Z" fill="#ff00ff"/><path d="M402.23,99.37L404.93,102.07L402.23,104.77L399.53,102.07Z" fill="#ff00ff"/><path d="M419.42,113.25L422.12,115.95L419.42,118.65L416.72,115.95Z" fill="#ff00ff"/><path d="M436.60,140.07L439.30,142.77L436.60,145.47L433.90,142.77Z" fill="#ff00ff"/><path d="M453.79,160.09L456.49,162.79L453.79,165.49L451.09,162.79Z" fill="#ff00ff"/><path d="M470.98,173.98L473.68,176.68L470.98,179.38L468.28,176.68Z" fill="#ff00ff"/><path d="M488.16,185.58L490.86,188.28L488.16,190.98L485.46,188.28Z" fill="#ff00ff"/><path d="M505.35,193.08L508.05,195.78L505.35,198.48L502.65,195.78Z" fill="#ff00ff"/><path d="M522.54,198.53L525.24,201.23L522.54,203.93L519.84,201.23Z" fill="#ff00ff"/><path d="M539.73,201.56L542.43,204.26L539.73,206.96L537.03,204.26Z" fill="#ff00ff"/><path d="M556.91,203.95L559.61,206.65L556.91,209.35L554.21,206.65Z" fill="#ff00ff"/><path d="M574.10,205.48L576.80,208.18L574.10,210.88L571.40,208.18Z" fill="#ff00ff"/><path d="M591.29,206.49L593.99,209.19L591.29,211.89L588.59,209.19Z" fill="#ff00ff"/></g><text x="33.30" y="232.7" text-anchor="middle" font-family="Liberation Sans, sans-serif" font-weight="bold" font-size="10.3">300</text><text x="84.90" y="232.7" text-anchor="middle" font-family="Liberation Sans, sans-serif" font-weight="bold" font-size="10.3">400</text><text x="136.50" y="232.7" text-anchor="middle" font-family="Liberation Sans, sans-serif" font-weight="bold" font-size="10.3">500</text><text x="188.10" y="232.7" text-anchor="middle" font-family="Liberation Sans, sans-serif" font-weight="bold" font-size="10.3">600</text><text x="239.70" y="232.7" text-anchor="middle" font-family="Liberation Sans, sans-serif" font-weight="bold" font-size="10.3">700</text><text x="291.30" y="232.7" text-anchor="middle" font-family="Liberation Sans, sans-serif" font-weight="bold" font-size="10.3">800</text><text x="335.20" y="232.7" text-anchor="middle" font-family="Liberation Sans, sans-serif" font-weight="bold" font-size="10.3">550</text><text x="378.17" y="232.7" text-anchor="middle" font-family="Liberation Sans, sans-serif" font-weight="bold" font-size="10.3">575</text><text x="421.13" y="232.7" text-anchor="middle" font-family="Liberation Sans, sans-serif" font-weight="bold" font-size="10.3">600</text><text x="464.10" y="232.7" text-anchor="middle" font-family="Liberation Sans, sans-serif" font-weight="bold" font-size="10.3">625</text><text x="507.07" y="232.7" text-anchor="middle" font-family="Liberation Sans, sans-serif" font-weight="bold" font-size="10.3">650</text><text x="550.04" y="232.7" text-anchor="middle" font-family="Liberation Sans, sans-serif" font-weight="bold" font-size="10.3">675</text><text x="593.00" y="232.7" text-anchor="middle" font-family="Liberation Sans, sans-serif" font-weight="bold" font-size="10.3">700</text><text x="162.5" y="251.3" text-anchor="middle" font-family="Liberation Serif, serif" font-weight="bold" font-size="15.6">Wavelength (nm)</text><text x="463.5" y="251.3" text-anchor="middle" font-family="Liberation Serif, serif" font-weight="bold" font-size="15.6">Wavelength (nm)</text><text transform="translate(20.3,129.2) rotate(-90)" text-anchor="middle" font-family="Liberation Serif, serif" font-weight="bold" font-size="15.6">Absorbance (a.u.)</text><text transform="translate(322.2,127.0) rotate(-90)" text-anchor="middle" font-family="Liberation Serif, serif" font-weight="bold" font-size="15.6">PL Intensity</text><text x="0.1" y="16.7" font-family="Liberation Sans, sans-serif" font-weight="bold" font-size="21">(a)</text><text x="304.6" y="16.7" font-family="Liberation Sans, sans-serif" font-weight="bold" font-size="21">(b)</text><path d="M162.20,44.30H185.20" stroke="#000000" stroke-width="1.8"/><rect x="171.70" y="42.10" width="4.40" height="4.40" fill="#000000"/><text x="187.90" y="47.90" font-family="Liberation Serif, serif" font-weight="bold" font-size="8.50">6mg-CdSe/EP Original</text><path d="M162.20,57.00H185.20" stroke="#ff0000" stroke-width="1.8"/><circle cx="173.90" cy="57.00" r="2.70" fill="#ff0000"/><text x="187.90" y="60.60" font-family="Liberation Serif, serif" font-weight="bold" font-size="8.50">3mg-CdSe/EP</text><path d="M162.20,69.80H185.20" stroke="#0000ff" stroke-width="1.8"/><path d="M173.90,66.45L177.00,72.03L170.80,72.03Z" fill="#0000ff"/><text x="187.90" y="73.40" font-family="Liberation Serif, serif" font-weight="bold" font-size="8.50">1.5mg-CdSe/EP</text><path d="M162.20,82.50H185.20" stroke="#008080" stroke-width="1.8"/><path d="M173.90,85.85L177.00,80.27L170.80,80.27Z" fill="#008080"/><text x="187.90" y="86.10" font-family="Liberation Serif, serif" font-weight="bold" font-size="8.50">6mg-CdSe/EP 12 days later</text><path d="M162.20,95.20H185.20" stroke="#ff00ff" stroke-width="1.8"/><path d="M173.90,92.00L177.10,95.20L173.90,98.40L170.70,95.20Z" fill="#ff00ff"/><text x="187.90" y="98.80" font-family="Liberation Serif, serif" font-weight="bold" font-size="8.50">6mg-CdSe/EP&#160; 1 years later</text><path d="M162.20,108.00H185.20" stroke="#808000" stroke-width="1.8"/><path d="M170.66,108.00L176.06,105.00L176.06,111.00Z" fill="#808000"/><text x="187.90" y="111.60" font-family="Liberation Serif, serif" font-weight="bold" font-size="10.30">EP</text><path d="M465.20,96.90H488.20" stroke="#000000" stroke-width="1.8"/><rect x="474.70" y="94.70" width="4.40" height="4.40" fill="#000000"/><text x="490.90" y="100.50" font-family="Liberation Serif, serif" font-weight="bold" font-size="8.50">6mg-CdSe/EP Original</text><path d="M465.20,109.90H488.20" stroke="#ff0000" stroke-width="1.8"/><circle cx="476.90" cy="109.90" r="2.70" fill="#ff0000"/><text x="490.90" y="113.50" font-family="Liberation Serif, serif" font-weight="bold" font-size="8.50">3mg-CdSe/EP</text><path d="M465.20,122.70H488.20" stroke="#0000ff" stroke-width="1.8"/><path d="M476.90,119.35L480.00,124.93L473.80,124.93Z" fill="#0000ff"/><text x="490.90" y="126.30" font-family="Liberation Serif, serif" font-weight="bold" font-size="8.50">1.5mg-CdSe/EP</text><path d="M465.20,135.80H488.20" stroke="#008000" stroke-width="1.8"/><path d="M476.90,139.15L480.00,133.57L473.80,133.57Z" fill="#008000"/><text x="490.90" y="139.40" font-family="Liberation Serif, serif" font-weight="bold" font-size="8.50">6mg-CdSe/EP 12 days later</text><path d="M465.20,148.70H488.20" stroke="#ff00ff" stroke-width="1.8"/><path d="M476.90,145.50L480.10,148.70L476.90,151.90L473.70,148.70Z" fill="#ff00ff"/><text x="490.90" y="152.30" font-family="Liberation Serif, serif" font-weight="bold" font-size="8.50">6mg-CdSe/EP&#160; 1 years later</text></svg>
</body></html>
